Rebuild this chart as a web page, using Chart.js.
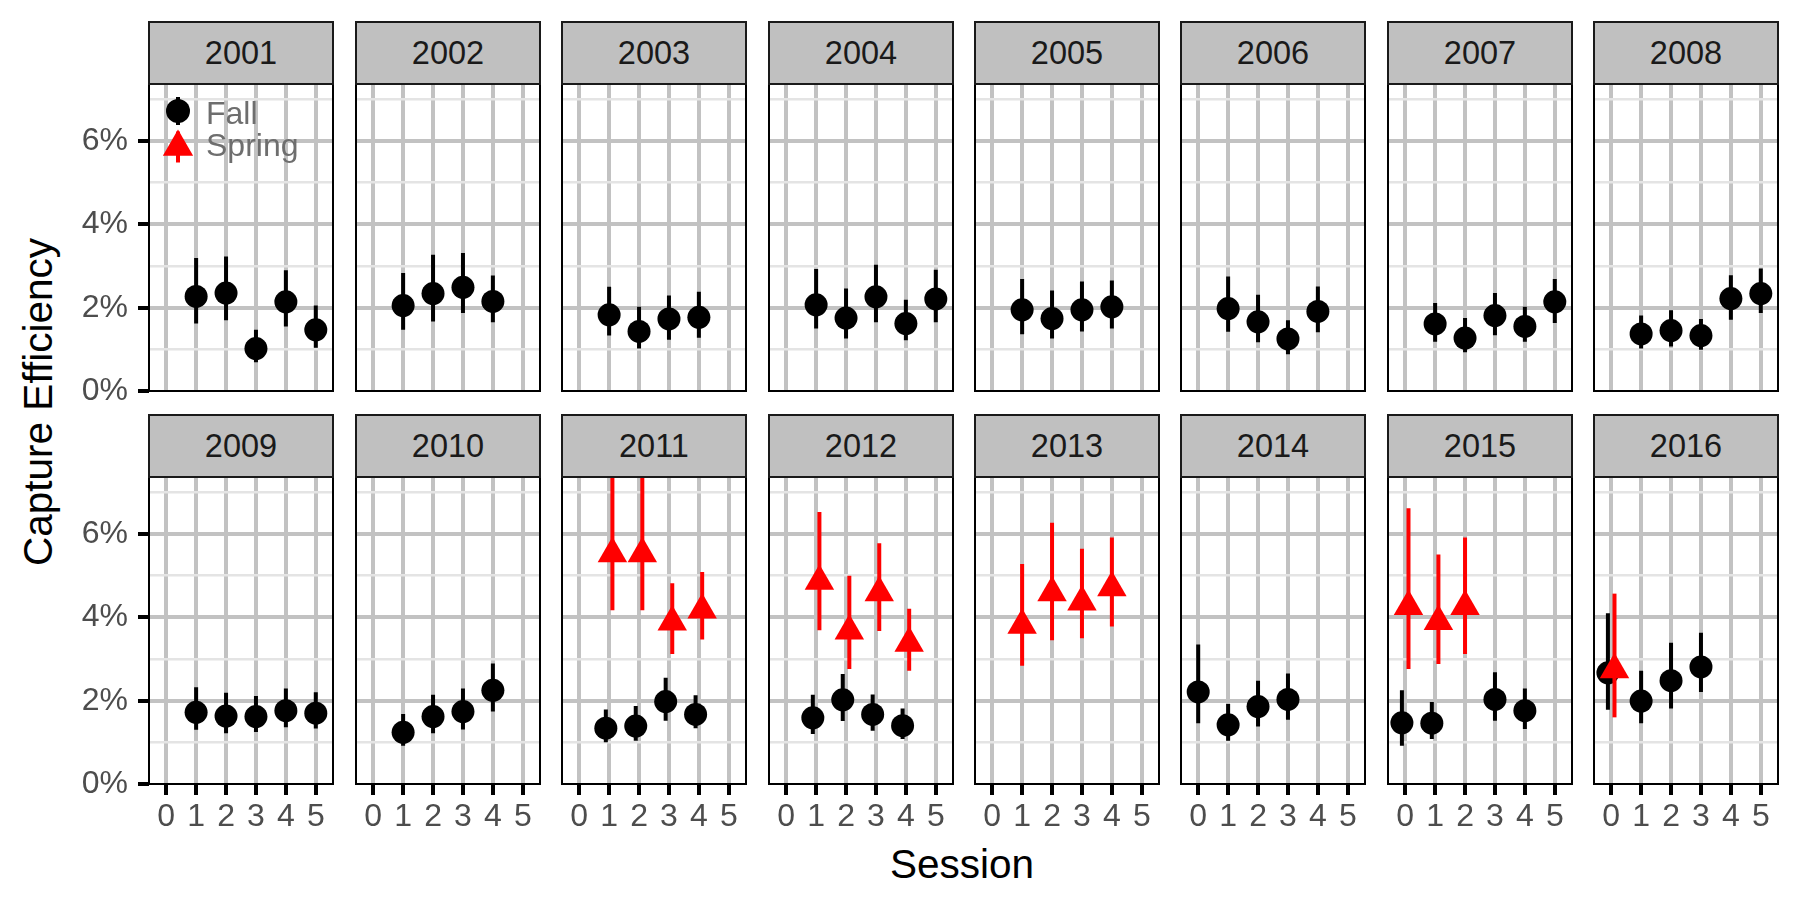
<!DOCTYPE html>
<html>
<head>
<meta charset="utf-8">
<script src="https://cdn.jsdelivr.net/npm/chart.js@4.4.1/dist/chart.umd.min.js"></script>
<style>
  body { margin: 0; background: #fff; font-family: 'Liberation Sans', Arial, sans-serif; }
  #page { position: relative; width: 1799px; height: 899px; overflow: hidden; background: #fff; }
  #page canvas { position: absolute; }
  .strip { position: absolute; box-sizing: border-box; background: #c0c0c0; border: 2px solid #1a1a1a;
           color: #1a1a1a; font-size: 32.5px; display: flex; align-items: center; justify-content: center; }
  .axis-title { position: absolute; font-size: 40.5px; line-height: 1; color: #000; white-space: nowrap; }
</style>
</head>
<body>
<div id="page">
  <div class="axis-title" id="ytitle" style="left:37.6px; top:402px; transform: translate(-50%, -50%) rotate(-90deg);">Capture Efficiency</div>
  <div class="axis-title" id="xtitle" style="left:962px; top:864px; transform: translate(-50%, -50%);">Session</div>
</div>
<script>
Chart.defaults.font.family = "'Liberation Sans', Arial, sans-serif";

const years = ['2001', '2002', '2003', '2004', '2005', '2006', '2007', '2008',
               '2009', '2010', '2011', '2012', '2013', '2014', '2015', '2016'];
const sessions = [0, 1, 2, 3, 4, 5];
const yLabelled = [0, 2, 4, 6];        // percent values that carry a label
const legendLabels = ['Fall', 'Spring'];

// capture efficiency (%) by year (rows) and session 0..5 (columns)
const fallEst = [
  [null, 2.27, 2.35, 1.02, 2.14, 1.47],
  [null, 2.05, 2.34, 2.49, 2.15, null],
  [null, 1.83, 1.43, 1.73, 1.77, null],
  [null, 2.07, 1.75, 2.26, 1.62, 2.21],
  [null, 1.95, 1.74, 1.95, 2.02, null],
  [null, 1.98, 1.66, 1.25, 1.91, null],
  [null, 1.61, 1.27, 1.81, 1.55, 2.14],
  [null, 1.37, 1.45, 1.33, 2.22, 2.34],
  [null, 1.72, 1.63, 1.62, 1.76, 1.70],
  [null, 1.24, 1.62, 1.74, 2.25, null],
  [null, 1.34, 1.39, 1.98, 1.67, null],
  [null, 1.59, 2.02, 1.67, 1.40, null],
  [null, null, null, null, null, null],
  [2.21, 1.42, 1.86, 2.03, null, null],
  [1.47, 1.46, null, 2.03, 1.76, null],
  [2.67, 1.99, 2.48, 2.81, null, null]
];
const fallLow = [
  [null, 1.62, 1.70, 0.69, 1.55, 1.04],
  [null, 1.47, 1.67, 1.87, 1.65, null],
  [null, 1.33, 1.02, 1.23, 1.28, null],
  [null, 1.50, 1.26, 1.65, 1.22, 1.65],
  [null, 1.36, 1.26, 1.43, 1.50, null],
  [null, 1.42, 1.17, 0.88, 1.41, null],
  [null, 1.18, 0.93, 1.34, 1.18, 1.63],
  [null, 1.02, 1.07, 0.99, 1.71, 1.87],
  [null, 1.30, 1.22, 1.25, 1.36, 1.33],
  [null, 0.92, 1.22, 1.31, 1.74, null],
  [null, 1.00, 1.04, 1.52, 1.34, null],
  [null, 1.20, 1.51, 1.28, 1.08, null],
  [null, null, null, null, null, null],
  [1.46, 1.04, 1.38, 1.54, null, null],
  [0.92, 1.08, null, 1.52, 1.32, null],
  [1.78, 1.46, 1.81, 2.21, null, null]
];
const fallHigh = [
  [null, 3.19, 3.23, 1.47, 2.90, 2.05],
  [null, 2.83, 3.27, 3.31, 2.77, null],
  [null, 2.50, 2.02, 2.29, 2.38, null],
  [null, 2.93, 2.46, 3.03, 2.19, 2.91],
  [null, 2.69, 2.41, 2.63, 2.65, null],
  [null, 2.75, 2.31, 1.70, 2.51, null],
  [null, 2.11, 1.75, 2.35, 2.02, 2.69],
  [null, 1.81, 1.94, 1.73, 2.78, 2.94],
  [null, 2.32, 2.19, 2.11, 2.29, 2.20],
  [null, 1.68, 2.14, 2.29, 2.89, null],
  [null, 1.79, 1.87, 2.55, 2.13, null],
  [null, 2.14, 2.64, 2.15, 1.81, null],
  [null, null, null, null, null, null],
  [3.35, 1.92, 2.48, 2.65, null, null],
  [2.25, 1.97, null, 2.68, 2.29, null],
  [4.10, 2.72, 3.39, 3.63, null, null]
];
const springEst = [
  [], [], [], [], [], [], [], [], [], [],
  [null, 5.53, 5.53, 3.89, 4.18, null],
  [null, 4.87, 3.67, 4.59, 3.38, null],
  [null, 3.81, 4.59, 4.37, 4.71, null],
  [],
  [4.26, 3.90, 4.26, null, null, null],
  [2.74, null, null, null, null, null]
];
const springLow = [
  [], [], [], [], [], [], [], [], [], [],
  [null, 4.17, 4.17, 3.12, 3.47, null],
  [null, 3.69, 2.76, 3.67, 2.72, null],
  [null, 2.84, 3.45, 3.50, 3.78, null],
  [],
  [2.76, 2.88, 3.12, null, null, null],
  [1.60, null, null, null, null, null]
];
const springHigh = [
  [], [], [], [], [], [], [], [], [], [],
  [null, 7.90, 7.90, 4.82, 5.09, null],
  [null, 6.53, 5.00, 5.78, 4.21, null],
  [null, 5.28, 6.27, 5.65, 5.92, null],
  [],
  [6.62, 5.51, 5.92, null, null, null],
  [4.57, null, null, null, null, null]
];

const black = '#000000';
const red = '#ff0000';
const majorGrid = '#c2c2c2';
const minorGrid = '#e4e4e4';
const tickText = '#4d4d4d';

// layout of the facet grid (px)
const colLeft = [149, 356, 562, 769, 975, 1181, 1388, 1594];
const rowTop = [84, 477];
const panelW = 184;
const panelH = 307;
const pad = 20;
const xMin = -0.575, xMax = 5.575, yMax = 7.37;
const dodge = 0.11;

const page = document.getElementById('page');

function has(arr, s) {
  return arr && arr[s] !== undefined && arr[s] !== null;
}

// points and error bars of one season, shifted sideways where both seasons share a session
function seasonData(est, low, high, other, side) {
  const pts = [], bars = [];
  sessions.forEach(s => {
    if (!has(est, s)) return;
    const x = has(other, s) ? s + side * dodge : s;
    pts.push({x: x, y: est[s]});
    bars.push({x: x, y: low[s]}, {x: x, y: high[s]}, {x: x, y: null});
  });
  return {pts, bars};
}

const frame = {
  id: 'frame',
  afterDraw(chart) {
    const {ctx, chartArea: a} = chart;
    ctx.save();
    ctx.strokeStyle = '#000';
    ctx.lineWidth = 2;
    ctx.strokeRect(a.left, a.top, a.right - a.left, a.bottom - a.top);
    ctx.restore();
  }
};

const key = {
  id: 'key',
  afterDraw(chart, args, opts) {
    if (!opts.show) return;
    const {ctx, chartArea: a} = chart;
    const x = a.left + 29;
    const rows = [
      {y: a.top + 27, color: black, style: 'circle', radius: 12, half: 14, base: a.top + 39.5},
      {y: a.top + 63, color: red, style: 'triangle', radius: 17.5, half: 15.5, base: a.top + 72}
    ];
    ctx.save();
    rows.forEach((row, k) => {
      ctx.strokeStyle = row.color;
      ctx.fillStyle = row.color;
      ctx.lineWidth = 4;
      ctx.beginPath();
      ctx.moveTo(x, row.y - row.half);
      ctx.lineTo(x, row.y + row.half);
      ctx.stroke();
      Chart.helpers.drawPoint(ctx, {pointStyle: row.style, radius: row.radius, borderWidth: 0, rotation: 0}, x, row.y);
      ctx.fillStyle = '#6e6e6e';
      ctx.font = "32px 'Liberation Sans', Arial, sans-serif";
      ctx.textBaseline = 'alphabetic';
      ctx.fillText(legendLabels[k], a.left + 57, row.base);
    });
    ctx.restore();
  }
};

years.forEach((yr, i) => {
  const r = Math.floor(i / 8), c = i % 8;
  const padL = c === 0 ? colLeft[0] : pad;
  const padB = r === 1 ? 60 : pad;

  const cv = document.createElement('canvas');
  cv.width = padL + panelW + pad;
  cv.height = pad + panelH + padB;
  cv.style.left = (colLeft[c] - padL) + 'px';
  cv.style.top = (rowTop[r] - pad) + 'px';
  page.appendChild(cv);

  const strip = document.createElement('div');
  strip.className = 'strip';
  strip.textContent = yr;
  strip.style.left = (colLeft[c] - 1) + 'px';
  strip.style.top = (rowTop[r] - 63) + 'px';
  strip.style.width = (panelW + 2) + 'px';
  strip.style.height = '64px';
  page.appendChild(strip);

  const fall = seasonData(fallEst[i], fallLow[i], fallHigh[i], springEst[i], -1);
  const spring = seasonData(springEst[i], springLow[i], springHigh[i], fallEst[i], 1);

  const isMajor = ctx => ctx.tick && yLabelled.includes(ctx.tick.value);

  new Chart(cv, {
    type: 'scatter',
    data: {
      datasets: [
        {label: 'Fall range', data: fall.bars, showLine: true, pointRadius: 0, borderColor: black,
         borderWidth: 4, order: 4, clip: 0},
        {label: 'Fall', data: fall.pts, pointStyle: 'circle', pointRadius: 11.5, backgroundColor: black,
         borderWidth: 0, order: 3, clip: 0},
        {label: 'Spring range', data: spring.bars, showLine: true, pointRadius: 0, borderColor: red,
         borderWidth: 4, order: 2, clip: 0},
        {label: 'Spring', data: spring.pts, pointStyle: 'triangle', pointRadius: 17, backgroundColor: red,
         borderWidth: 0, order: 1, clip: 0}
      ]
    },
    options: {
      responsive: false,
      animation: false,
      events: [],
      layout: {
        autoPadding: false,
        padding: {top: pad, right: pad, left: c === 0 ? 0 : pad, bottom: r === 1 ? 0 : pad}
      },
      plugins: {
        legend: {display: false},
        tooltip: {enabled: false},
        key: {show: i === 0}
      },
      scales: {
        x: {
          type: 'linear',
          min: xMin,
          max: xMax,
          afterFit: s => {
            s.height = r === 1 ? 60 : 0;
            s.paddingLeft = 0; s.paddingRight = 0;
          },
          border: {display: false},
          grid: {color: majorGrid, lineWidth: 4, drawTicks: r === 1, tickLength: 11,
                 tickColor: black, tickWidth: 4},
          ticks: {display: r === 1, stepSize: 1, includeBounds: false, autoSkip: false, maxRotation: 0,
                  padding: 3, color: tickText, font: {size: 32}}
        },
        y: {
          min: 0,
          max: yMax,
          afterFit: s => {
            s.width = c === 0 ? colLeft[0] : 0;
            s.paddingTop = 0; s.paddingBottom = 0;
          },
          border: {display: false},
          grid: {
            color: ctx => !ctx.tick || ctx.tick.value === 0 ? 'rgba(0,0,0,0)' : (isMajor(ctx) ? majorGrid : minorGrid),
            lineWidth: ctx => isMajor(ctx) ? 4 : 2.5,
            drawTicks: c === 0,
            tickLength: 11,
            tickColor: ctx => isMajor(ctx) ? black : 'rgba(0,0,0,0)',
            tickWidth: 4
          },
          ticks: {display: c === 0, stepSize: 1, includeBounds: false, autoSkip: false, padding: 10,
                  color: tickText, font: {size: 32},
                  callback: v => yLabelled.includes(v) ? v + '%' : ''}
        }
      }
    },
    plugins: [frame, key]
  });
});
</script>
</body>
</html>
